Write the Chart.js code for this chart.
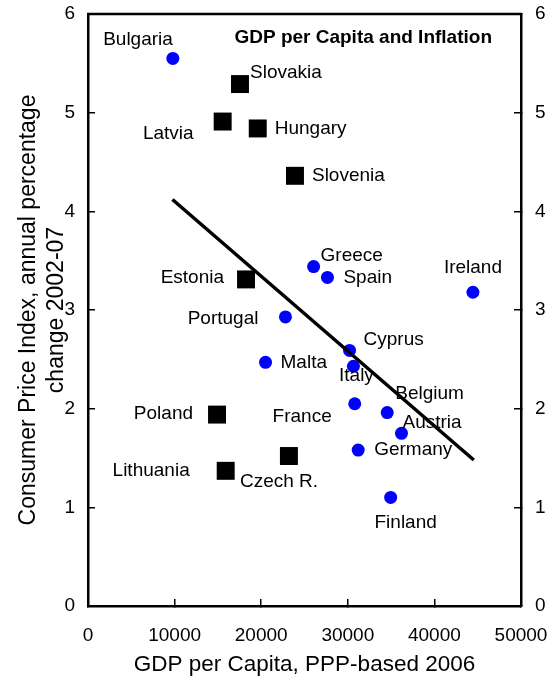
<!DOCTYPE html>
<html>
<head>
<meta charset="utf-8">
<script src="https://cdn.jsdelivr.net/npm/chart.js@4"></script>
<style>
  html, body { margin: 0; padding: 0; background: #fff; }
  #wrap { width: 557px; height: 681px; }
</style>
</head>
<body>
<div id="wrap"><canvas id="grafico"></canvas></div>
<script>
// blue circles
const circleNames = ['Bulgaria', 'Greece', 'Spain', 'Ireland', 'Portugal', 'Malta', 'Cyprus',
                     'Italy', 'France', 'Belgium', 'Austria', 'Germany', 'Finland'];
const circleGdp = [9800, 26050, 27650, 44450, 22800, 20500, 30200, 30650, 30800, 34550, 36200, 31200, 34950];
const circleCpi = [5.55, 3.44, 3.33, 3.18, 2.93, 2.47, 2.59, 2.43, 2.05, 1.96, 1.75, 1.58, 1.10];

// black squares
const squareNames = ['Slovakia', 'Latvia', 'Hungary', 'Slovenia', 'Estonia', 'Poland', 'Lithuania', 'Czech R.'];
const squareGdp = [17550, 15550, 19600, 23900, 18250, 14900, 15900, 23200];
const squareCpi = [5.29, 4.91, 4.84, 4.36, 3.31, 1.94, 1.37, 1.52];

// trend line end points
const trendGdp = [9750, 44550];
const trendCpi = [4.12, 1.48];

const xTicks = [0, 10000, 20000, 30000, 40000, 50000];
const yTicks = [0, 1, 2, 3, 4, 5, 6];

// where each name sits relative to its marker
const labelPlace = {
    'Bulgaria': ['right', 0, -19], 'Slovakia': ['left', 10, -11], 'Latvia': ['right', -29, 12],
    'Hungary': ['left', 17, 0], 'Slovenia': ['left', 17, 0], 'Estonia': ['right', -22, -2],
    'Poland': ['right', -24, -1], 'Lithuania': ['right', -36, 0], 'Czech R.': ['left', -49, 26],
    'Greece': ['left', 7, -11], 'Spain': ['left', 16, 0], 'Ireland': ['center', 0, -24],
    'Portugal': ['right', -27, 2], 'Malta': ['left', 15, 0], 'Cyprus': ['left', 14, -11],
    'Italy': ['center', 3, 10], 'France': ['right', -23, 13], 'Belgium': ['left', 8, -19],
    'Austria': ['left', 1, -11], 'Germany': ['left', 16, 0], 'Finland': ['center', 15, 25]
};

const FONT = "'Liberation Sans', Arial, sans-serif";

const pointLabels = {
    id: 'pointLabels',
    afterDatasetsDraw(chart) {
        const ctx = chart.ctx;
        ctx.save();
        ctx.font = '19px ' + FONT;
        ctx.fillStyle = '#000';
        ctx.textBaseline = 'middle';
        chart.data.datasets.forEach((ds, i) => {
            if (!ds.names) return;
            chart.getDatasetMeta(i).data.forEach((pt, j) => {
                const p = labelPlace[ds.names[j]];
                ctx.textAlign = p[0];
                ctx.fillText(ds.names[j], pt.x + p[1], pt.y + p[2]);
            });
        });
        // title inside the plot
        const a = chart.chartArea;
        ctx.font = 'bold 19px ' + FONT;
        ctx.textAlign = 'right';
        ctx.fillText('GDP per Capita and Inflation', a.right - 29, a.top + 24);
        // frame top line
        ctx.lineWidth = 2.5;
        ctx.strokeStyle = '#000';
        ctx.beginPath();
        ctx.moveTo(a.left - 1, a.top);
        ctx.lineTo(a.right + 1, a.top);
        ctx.stroke();
        ctx.restore();
    }
};

const toPoints = (xs, ys) => xs.map((x, i) => ({ x: x, y: ys[i] }));
const noPadY = s => { s.paddingTop = 0; s.paddingBottom = 0; };

new Chart(document.getElementById('grafico').getContext('2d'), {
    type: 'scatter',
    data: {
        datasets: [{
            label: 'Trend',
            data: toPoints(trendGdp, trendCpi),
            showLine: true,
            borderColor: '#000',
            borderWidth: 3.5,
            pointRadius: 0
        }, {
            label: 'Circles',
            names: circleNames,
            data: toPoints(circleGdp, circleCpi),
            backgroundColor: '#0000ff',
            borderColor: '#0000ff',
            borderWidth: 0,
            pointRadius: 6.5,
            pointStyle: 'circle'
        }, {
            label: 'Squares',
            names: squareNames,
            data: toPoints(squareGdp, squareCpi),
            backgroundColor: '#000',
            borderColor: '#000',
            borderWidth: 0,
            pointRadius: 12.7,
            pointStyle: 'rect'
        }]
    },
    options: {
        responsive: true,
        maintainAspectRatio: false,
        animation: false,
        layout: { padding: { top: 14, left: 0, right: 0, bottom: 0 } },
        plugins: { legend: { display: false }, tooltip: { enabled: false } },
        scales: {
            x: {
                type: 'linear',
                position: 'bottom',
                min: 0, max: 50000,
                afterBuildTicks: s => { s.ticks = xTicks.map(v => ({ value: v })); },
                afterFit: s => { s.height = 75; s.paddingLeft = 0; s.paddingRight = 0; },
                grid: { drawOnChartArea: false, tickLength: -7, color: '#000', lineWidth: 1.5 },
                border: { color: '#000', width: 2.5 },
                ticks: { color: '#000', padding: 25, maxRotation: 0, font: { family: FONT, size: 19 },
                         callback: v => String(v) },
                title: {
                    display: true,
                    text: 'GDP per Capita, PPP-based 2006',
                    color: '#000',
                    font: { family: FONT, size: 22.5 },
                    padding: { top: 0, bottom: 3 }
                }
            },
            y: {
                type: 'linear',
                position: 'left',
                min: 0, max: 6,
                afterBuildTicks: s => { s.ticks = yTicks.map(v => ({ value: v })); },
                afterFit: s => { s.width = 88; noPadY(s); },
                grid: { drawOnChartArea: false, tickLength: -7, color: '#000', lineWidth: 1.5 },
                border: { color: '#000', width: 2.5 },
                ticks: { color: '#000', padding: 20, font: { family: FONT, size: 19 } },
                title: {
                    display: true,
                    text: ['Consumer Price Index, annual percentage', 'change 2002-07'],
                    color: '#000',
                    font: { family: FONT, size: 23, lineHeight: 1.2 },
                    padding: { top: 15, bottom: 0 }
                }
            },
            y2: {
                type: 'linear',
                position: 'right',
                min: 0, max: 6,
                afterBuildTicks: s => { s.ticks = yTicks.map(v => ({ value: v })); },
                afterFit: s => { s.width = 36; noPadY(s); },
                grid: { drawOnChartArea: false, tickLength: -7, color: '#000', lineWidth: 1.5 },
                border: { color: '#000', width: 2.5 },
                ticks: { color: '#000', padding: 21, font: { family: FONT, size: 19 } }
            }
        }
    },
    plugins: [pointLabels]
});
</script>
</body>
</html>
